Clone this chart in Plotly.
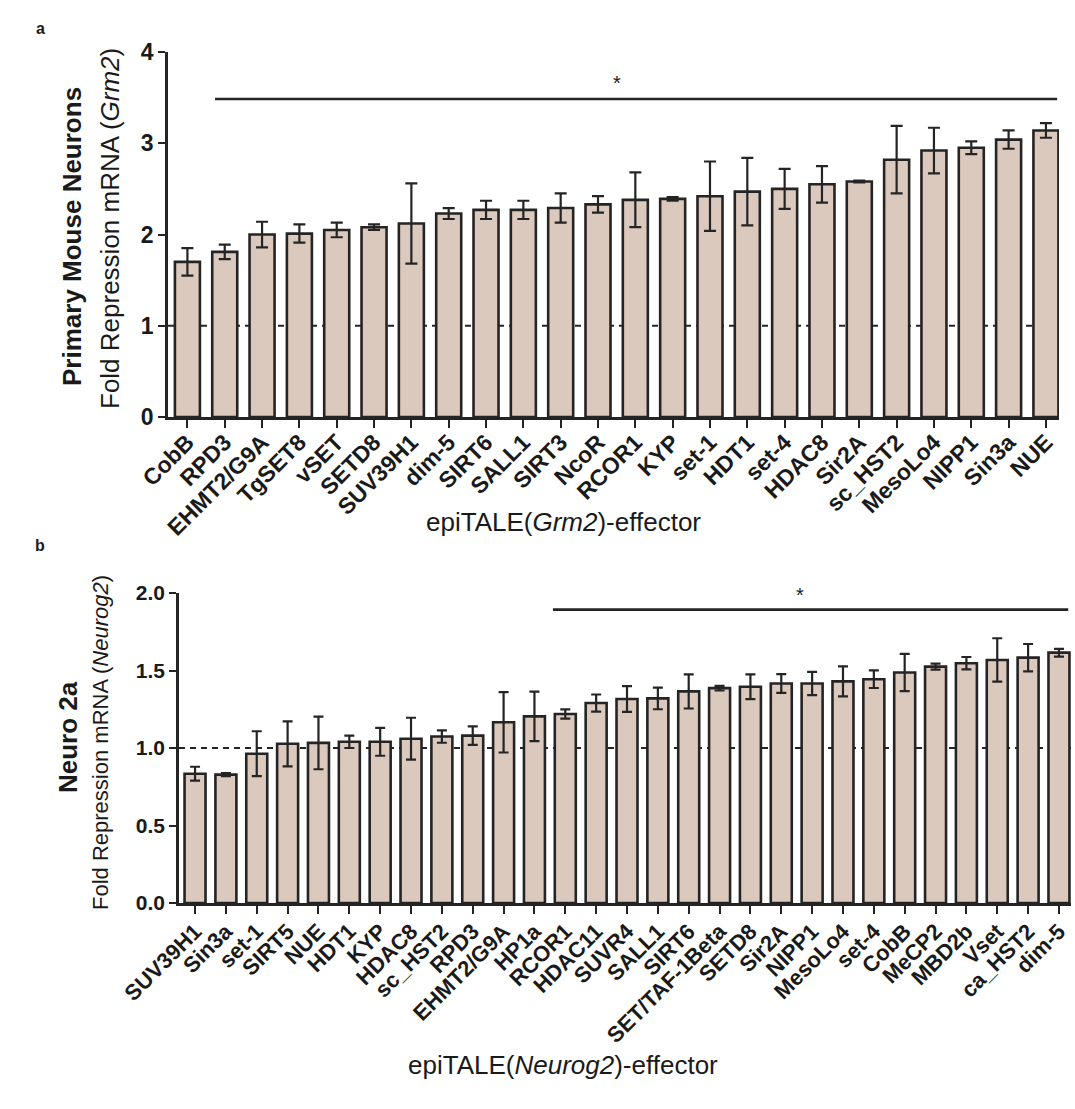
import plotly.graph_objects as go

# ---------------- data ----------------
cats_a = ["CobB", "RPD3", "EHMT2/G9A", "TgSET8", "vSET", "SETD8", "SUV39H1", "dim-5",
          "SIRT6", "SALL1", "SIRT3", "NcoR", "RCOR1", "KYP", "set-1", "HDT1", "set-4",
          "HDAC8", "Sir2A", "sc_HST2", "MesoLo4", "NIPP1", "Sin3a", "NUE"]
vals_a = [1.70, 1.81, 2.00, 2.01, 2.05, 2.08, 2.12, 2.23, 2.27, 2.27, 2.29, 2.33,
          2.38, 2.39, 2.42, 2.47, 2.50, 2.55, 2.58, 2.82, 2.92, 2.95, 3.04, 3.14]
errs_a = [0.15, 0.08, 0.14, 0.10, 0.08, 0.03, 0.44, 0.06, 0.10, 0.10, 0.16, 0.09,
          0.30, 0.02, 0.38, 0.37, 0.22, 0.20, 0.01, 0.37, 0.25, 0.07, 0.10, 0.08]

cats_b = ["SUV39H1", "Sin3a", "set-1", "SIRT5", "NUE", "HDT1", "KYP", "HDAC8", "sc_HST2",
          "RPD3", "EHMT2/G9A", "HP1a", "RCOR1", "HDAC11", "SUVR4", "SALL1", "SIRT6",
          "SET/TAF-1Beta", "SETD8", "Sir2A", "NIPP1", "MesoLo4", "set-4", "CobB", "MeCP2",
          "MBD2b", "Vset", "ca_HST2", "dim-5"]
vals_b = [0.834, 0.828, 0.963, 1.027, 1.033, 1.040, 1.040, 1.060, 1.074, 1.080, 1.166,
          1.204, 1.219, 1.290, 1.316, 1.320, 1.365, 1.386, 1.395, 1.416, 1.416, 1.430,
          1.444, 1.487, 1.525, 1.547, 1.568, 1.583, 1.615]
errs_b = [0.045, 0.010, 0.145, 0.145, 0.170, 0.040, 0.090, 0.135, 0.040, 0.060, 0.195,
          0.160, 0.030, 0.055, 0.083, 0.070, 0.110, 0.015, 0.080, 0.060, 0.075, 0.097,
          0.057, 0.120, 0.020, 0.040, 0.140, 0.088, 0.025]

ticks_a = [0, 1, 2, 3, 4]
ticks_b = [0.0, 0.5, 1.0, 1.5, 2.0]

# significance bars: (x start index, x end index, y level, star x index, star y)
sig_a = (0.74, 23.3, 3.485, 11.5, 3.66)
sig_b = (11.6, 28.3, 1.893, 19.6, 1.99)

# ---------------- style ----------------
W, H = 1075, 1109
FILL = "#dcc9be"
EDGE = "#242424"
FONT = "Arial, Liberation Sans, Helvetica, sans-serif"


def px_x(p):
    return p / W


def px_y(p):
    return 1 - p / H


fig = go.Figure()

fig.add_trace(go.Bar(
    x=cats_a, y=vals_a, width=0.67,
    marker=dict(color=FILL, line=dict(color=EDGE, width=2.6)),
    error_y=dict(type="data", array=errs_a, color=EDGE, thickness=2.2, width=6),
    xaxis="x", yaxis="y", showlegend=False))

fig.add_trace(go.Bar(
    x=cats_b, y=vals_b, width=0.68,
    marker=dict(color=FILL, line=dict(color=EDGE, width=2.6)),
    error_y=dict(type="data", array=errs_b, color=EDGE, thickness=2.2, width=5),
    xaxis="x2", yaxis="y2", showlegend=False))

xa_range = [-0.52, 23.35]
xb_range = [-0.52, 28.39]

axis_common = dict(showline=True, linecolor=EDGE, linewidth=2.6, showgrid=False,
                   zeroline=False, ticks="outside", tickcolor=EDGE, tickwidth=2.2,
                   automargin=False)

fig.update_layout(
    width=W, height=H, autosize=False,
    margin=dict(l=0, r=0, t=0, b=0, pad=0, autoexpand=False),
    paper_bgcolor="white", plot_bgcolor="rgba(0,0,0,0)",
    font=dict(family=FONT, color="#1a1a1a"),
    bargap=0.3,
    xaxis=dict(domain=[px_x(168), px_x(1059)], anchor="y", range=xa_range,
               tickangle=-45, ticklen=8, ticklabelstandoff=-8,
               tickfont=dict(size=23, family=FONT, weight="bold", color="#1a1a1a"),
               **axis_common),
    yaxis=dict(domain=[px_y(417), px_y(52)], anchor="x", range=[0, 4],
               tickvals=ticks_a, ticktext=[str(t) for t in ticks_a], ticklen=7,
               tickfont=dict(size=23, family=FONT, weight="bold", color="#1a1a1a"),
               **axis_common),
    xaxis2=dict(domain=[px_x(179), px_x(1071)], anchor="y2", range=xb_range,
                tickangle=-45, ticklen=8, ticklabelstandoff=-4,
                tickfont=dict(size=22, family=FONT, weight="bold", color="#1a1a1a"),
                **axis_common),
    yaxis2=dict(domain=[px_y(903), px_y(593)], anchor="x2", range=[0, 2],
                tickvals=ticks_b, ticktext=["%.1f" % t for t in ticks_b], ticklen=7,
                tickfont=dict(size=21, family=FONT, weight="bold", color="#1a1a1a"),
                **axis_common),
)

shapes = []
# dashed reference lines at 1 (behind bars)
shapes.append(dict(type="line", xref="x", yref="y", x0=xa_range[0], x1=xa_range[1], y0=1, y1=1,
                   line=dict(color=EDGE, width=2, dash="6px,5px"), layer="below"))
shapes.append(dict(type="line", xref="x2", yref="y2", x0=xb_range[0], x1=xb_range[1], y0=1, y1=1,
                   line=dict(color=EDGE, width=2, dash="6px,5px"), layer="below"))
# significance lines
shapes.append(dict(type="line", xref="x", yref="y", x0=sig_a[0], x1=sig_a[1], y0=sig_a[2], y1=sig_a[2],
                   line=dict(color=EDGE, width=2.6)))
shapes.append(dict(type="line", xref="x2", yref="y2", x0=sig_b[0], x1=sig_b[1], y0=sig_b[2], y1=sig_b[2],
                   line=dict(color=EDGE, width=2.6)))
fig.update_layout(shapes=shapes)


def note(x, y, text, size, angle=0, xref="paper", yref="paper"):
    return dict(xref=xref, yref=yref, x=x, y=y, text=text, showarrow=False,
                textangle=angle, xanchor="center", yanchor="middle",
                font=dict(size=size, family=FONT, color="#1a1a1a"))


ann = [
    note(sig_a[3], sig_a[4], "*", 20, xref="x", yref="y"),
    note(sig_b[3], sig_b[4], "*", 20, xref="x2", yref="y2"),
    # panel letters
    note(px_x(40), px_y(28), "<b>a</b>", 16),
    note(px_x(40), px_y(545), "<b>b</b>", 16),
    # y titles
    note(px_x(72), px_y(237), "<b>Primary Mouse Neurons</b>", 26, -90),
    note(px_x(110), px_y(229), "Fold Repression mRNA (<i>Grm2</i>)", 26, -90),
    note(px_x(68), px_y(737), "<b>Neuro 2a</b>", 26, -90),
    note(px_x(100), px_y(743), "Fold Repression mRNA (<i>Neurog2</i>)", 22, -90),
    # x titles
    note(px_x(563), px_y(522), "epiTALE(<i>Grm2</i>)-effector", 26),
    note(px_x(563), px_y(1065), "epiTALE(<i>Neurog2</i>)-effector", 26),
]
fig.update_layout(annotations=ann)

fig.write_html("out.html", config={"displayModeBar": False},
               post_script="document.body.style.margin='0px';document.body.style.overflow='hidden';")
